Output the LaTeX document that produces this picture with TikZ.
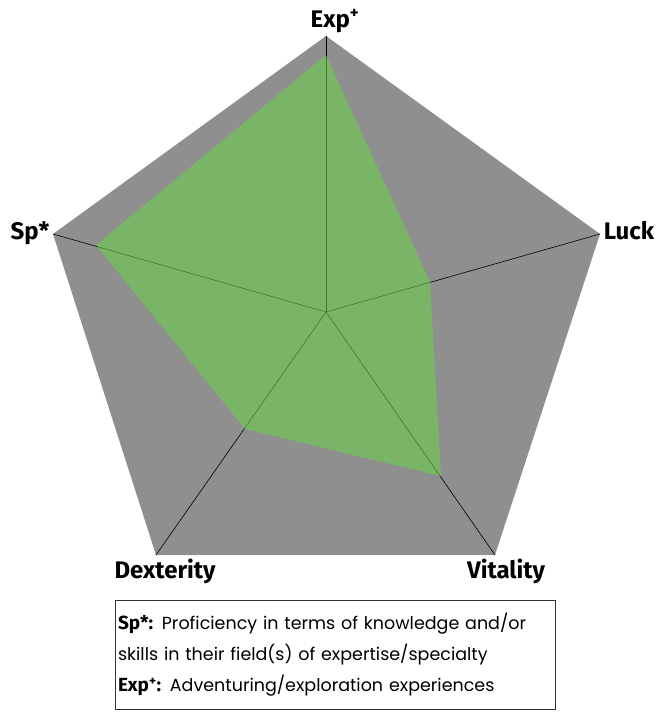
\documentclass[tikz,border=0pt]{standalone}
\usepackage{fontspec}
\setmainfont{Poppins}
\newfontfamily\labelfont{Fira Sans}
\usepackage{xcolor}
\usepackage{tikz}
\usetikzlibrary{positioning,calc}
\definecolor{RadarGray}{RGB}{143,143,143}
\definecolor{RadarGreen}{RGB}{108,206,75}
\newcommand{\legendkey}[1]{{\labelfont\bfseries\fontsize{19}{31}\selectfont #1}}

\begin{document}
\begin{tikzpicture}[x=1pt, y=-1pt,
                % Style nền và vùng chỉ số
                radarbg/.style={fill=RadarGray, draw=none},
                statfill/.style={fill=RadarGreen, fill opacity=0.6, draw=none},
                % Style trục
                axisline/.style={draw=black, line width=0.6pt},
                % Style nhãn
                axislabel/.style={font=\labelfont\bfseries\fontsize{24}{28}\selectfont, text=black, inner sep=0pt},
                legendbox/.style={draw=black!80, line width=0.6pt, minimum width=440, minimum height=109, text width=434, align=left, inner sep=3pt, font=\fontsize{17.5}{31}\selectfont}
            ]
                \useasboundingbox (0,0) rectangle (665,720);

                % --- ĐỈNH NGŨ GIÁC ---
                \coordinate (c) at (326,312);
                \coordinate (exp) at (326,36);
                \coordinate (luck) at (600,234);
                \coordinate (vit) at (495,555);
                \coordinate (dex) at (156,555);
                \coordinate (sp) at (53,234);

                % --- ĐIỂM CHỈ SỐ ---
                \coordinate (vexp) at (326,55);
                \coordinate (vluck) at (430,282);
                \coordinate (vvit) at (441,476);
                \coordinate (vdex) at (245,429);
                \coordinate (vsp) at (96,245);

                % Nền xám
                \fill[radarbg] (exp) -- (luck) -- (vit) -- (dex) -- (sp) -- cycle;

                % Trục
                \draw[axisline] (c) -- (exp); \draw[axisline] (c) -- (luck); \draw[axisline] (c) -- (vit);
                \draw[axisline] (c) -- (dex); \draw[axisline] (c) -- (sp);

                % Vùng xanh
                \fill[statfill] (vexp) -- (vluck) -- (vvit) -- (vdex) -- (vsp) -- cycle;

                % --- NHÃN (LABELS) ---
                \node[axislabel] (lexp) at (335,21) {Exp\textsuperscript{+}};
                \node[axislabel] (lluck) at (629,231) {Luck};
                \node[axislabel] (lvit) at (506,571) {Vitality};
                \node[axislabel] (ldex) at (165,571) {Dexterity};
                \node[axislabel] (lsp) at (30,233) {Sp*};

                % Chú thích
                \node[legendbox] (legend) at (335,655) {%
                    \legendkey{Sp*:} Proficiency in terms of knowledge and/or\\
                    skills in their field(s) of expertise/specialty\\
                    \legendkey{Exp\textsuperscript{+}:} Adventuring/exploration experiences};

            \end{tikzpicture}
\end{document}
